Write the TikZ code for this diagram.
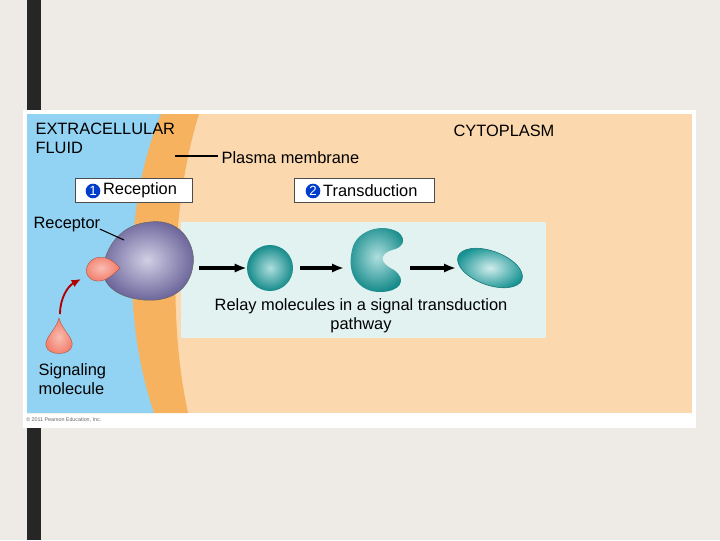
\documentclass[tikz,border=0pt]{standalone}
\usepackage{fontspec}
\setmainfont{Liberation Sans}
\begin{document}
\begin{tikzpicture}[x=0.75pt,y=-0.75pt,
  lbl/.style={font=\fontsize{12.3}{14.5}\selectfont,inner sep=1pt},
  stepbox/.style={draw=black!70,fill=white,line width=0.6pt,minimum height=18pt,inner sep=2pt,font=\fontsize{12.3}{14}\selectfont},
  num/.style={circle,fill=blue!70!cyan!80!black,text=white,inner sep=0pt,minimum size=11pt,font=\fontsize{10}{10}\selectfont},
  flow/.style={-{Latex[length=9pt,width=7pt]},line width=2.4pt},
  tshade/.style={inner color=teal!35!white,outer color=teal!85!black}]
\usetikzlibrary{arrows.meta}
\definecolor{bg}{HTML}{EEEBE6}
\definecolor{fluid}{HTML}{92D2F2}
\definecolor{cyto}{HTML}{FCD8AE}
\definecolor{memb}{HTML}{F6B25E}
\definecolor{relaybg}{HTML}{E2F2F1}
\definecolor{teal}{HTML}{1AA3A3}
\definecolor{purp}{HTML}{7C74B4}
\definecolor{drop}{HTML}{F27A66}
\useasboundingbox (0,0) rectangle (720,540);
\fill[bg] (0,0) rectangle (720,540);
\fill[black!85] (27,0) rectangle (41,540);
\fill[white] (23,110) rectangle (696,428);
\fill[cyto] (27,114) rectangle (692,413);
\fill[memb] (27,114) -- (199,114) .. controls (172,200) and (168,320) .. (188,413) -- (27,413) -- cycle;
\fill[fluid] (27,114) -- (161,114) .. controls (125,200) and (122,320) .. (154,413) -- (27,413) -- cycle;
\fill[relaybg] (181,222) rectangle (546,338);
\node[lbl,anchor=north west,align=left] (ecf) at (34,121) {EXTRACELLULAR\\FLUID};
\node[lbl,anchor=north east] (cyt) at (556,123) {CYTOPLASM};
\node[lbl,anchor=west] (pm) at (220,158) {Plasma membrane};
\coordinate (pmend) at (175,156);
\draw[line width=0.8pt] (pm.west) ++(-2,-2) -- (pmend);
\node[stepbox,minimum width=88pt,anchor=north west] (rec) at (75,178) {\phantom{0}\,Reception};
\node[num] (n1) at (93,191) {1};
\node[stepbox,minimum width=105pt,anchor=north west] (tra) at (294,178) {\phantom{0}\,Transduction};
\node[num] (n2) at (313,191) {2};
% receptor
\shade[inner color=purp!35!white,outer color=purp!85!black,draw=black!60,line width=0.4pt] (150,222) .. controls (185,218) and (196,250) .. (193,265) .. controls (190,290) and (170,302) .. (145,300) .. controls (115,298) and (98,282) .. (104,262) .. controls (110,240) and (125,224) .. (150,222) -- cycle;
\node[lbl,anchor=west] (recl) at (32,225) {Receptor};
\coordinate (rectip) at (124,240);
\draw[line width=0.8pt] (recl.east) ++(-2,4) -- (rectip);
% bound drop
\shade[inner color=drop!50!white,outer color=drop,draw=drop!70!black,line width=0.3pt] (120,268) .. controls (112,258) and (100,254) .. (92,260) .. controls (82,268) and (86,280) .. (97,281) .. controls (105,282) and (113,275) .. (120,268) -- cycle;
% signaling drop
\shade[inner color=drop!50!white,outer color=drop,draw=drop!70!black,line width=0.3pt] (59,318) .. controls (62,330) and (74,338) .. (72,346) .. controls (70,356) and (48,356) .. (46,346) .. controls (44,338) and (56,330) .. (59,318) -- cycle;
\coordinate (sigtop) at (60,314);
\coordinate (sigto) at (81,279);
\draw[-{Latex[length=7pt,width=6pt]},line width=1.4pt,red!70!black] (sigtop) .. controls (60,298) and (68,286) .. (sigto);
\node[lbl,anchor=north west,align=left] (sig) at (37,362) {Signaling\\molecule};
% relay
\shade[tshade] (270,268) circle (23);
\node[circle,minimum size=46pt*0.75,inner sep=0pt] (r1) at (270,268) {};
\shade[tshade] (352,250) .. controls (355,232) and (380,222) .. (398,232) .. controls (408,240) and (402,248) .. (392,250) .. controls (380,254) and (378,262) .. (394,270) .. controls (408,280) and (400,292) .. (380,292) .. controls (360,292) and (346,276) .. (352,250) -- cycle;
\coordinate (r2w) at (344,268);
\coordinate (r2e) at (410,268);
\shade[inner color=teal!20!white,outer color=teal!90!black,draw=teal!70!black,line width=0.4pt,rotate around={-20:(490,268)}] (490,268) ellipse (34 and 17);
\coordinate (r3w) at (456,268);
\coordinate (pr) at (199,268);
\draw[flow] (pr) -- (r1.west);
\draw[flow] (300,268) -- (r2w);
\draw[flow] (r2e) -- (r3w);
\node[lbl,align=center] (relay) at (361,316) {Relay molecules in a signal transduction\\pathway};
\node[font=\fontsize{4}{5}\selectfont,anchor=west,text=black!60,inner sep=0pt] (copy) at (26,420) {© 2011 Pearson Education, Inc.};
\end{tikzpicture}
\end{document}
